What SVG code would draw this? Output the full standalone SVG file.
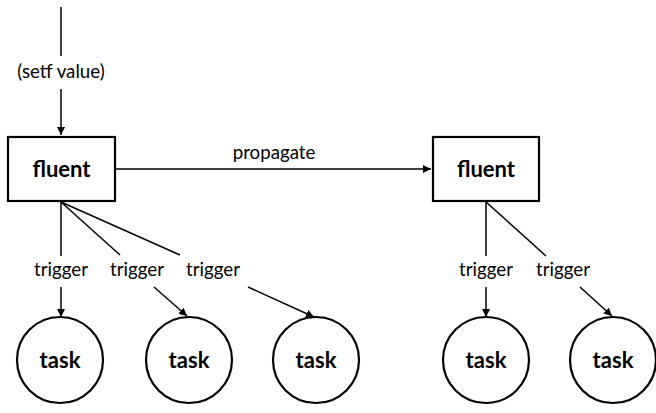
<svg xmlns="http://www.w3.org/2000/svg" width="656" height="413" viewBox="0 0 656 413">
<defs>
<marker id="arr" viewBox="0 0 10 10" refX="10" refY="5" markerWidth="8" markerHeight="8" markerUnits="userSpaceOnUse" orient="auto">
<path d="M0,0 L10,5 L0,10 z" fill="#000"/>
</marker>
<style>
.lbl{font-family:Lato,"DejaVu Sans",sans-serif;font-size:18.7px;fill:#000;text-anchor:middle}
.nt{font-family:Lato,"DejaVu Sans",sans-serif;font-size:22px;font-weight:bold;fill:#000;text-anchor:middle}
.box{fill:#fff;stroke:#000;stroke-width:2.2}
.ln{stroke:#000;stroke-width:1.5;fill:none}
.ar{stroke:#000;stroke-width:1.5;fill:none;marker-end:url(#arr)}
</style>
</defs>
<rect width="656" height="413" fill="#fff"/>
<g id="connectors">
<line class="ln" x1="61" y1="7" x2="61" y2="56"/>
<line class="ar" x1="61" y1="89" x2="61" y2="135"/>
<line class="ar" x1="116" y1="169" x2="431" y2="169"/>
<line class="ln" x1="61" y1="202" x2="61" y2="256"/>
<line class="ar" x1="61" y1="287" x2="61" y2="317"/>
<line class="ln" x1="61" y1="202" x2="120" y2="255"/>
<line class="ar" x1="154" y1="287" x2="187" y2="316"/>
<line class="ln" x1="61" y1="202" x2="180" y2="255"/>
<line class="ar" x1="248" y1="287" x2="314" y2="317"/>
<line class="ln" x1="486" y1="202" x2="486" y2="256"/>
<line class="ar" x1="486" y1="287" x2="486" y2="317"/>
<line class="ln" x1="486" y1="202" x2="546" y2="256"/>
<line class="ar" x1="580" y1="287" x2="612" y2="316"/>
<text class="lbl" x="61" y="78">(setf value)</text>
<text class="lbl" x="274" y="159">propagate</text>
<text class="lbl" x="61" y="276">trigger</text>
<text class="lbl" x="137" y="276">trigger</text>
<text class="lbl" x="213" y="276">trigger</text>
<text class="lbl" x="486" y="276">trigger</text>
<text class="lbl" x="563" y="276">trigger</text>
</g>
<g id="fluent1"><rect class="box" x="8" y="137" width="107" height="64"/><text class="nt" x="61.5" y="177">fluent</text></g>
<g id="fluent2"><rect class="box" x="433" y="137" width="106" height="64"/><text class="nt" x="486" y="177">fluent</text></g>
<g id="task1"><circle class="box" cx="60" cy="360" r="43"/><text class="nt" x="60" y="368">task</text></g>
<g id="task2"><circle class="box" cx="189" cy="360" r="43"/><text class="nt" x="189" y="368">task</text></g>
<g id="task3"><circle class="box" cx="316" cy="360" r="43"/><text class="nt" x="316" y="368">task</text></g>
<g id="task4"><circle class="box" cx="486" cy="360" r="43"/><text class="nt" x="486" y="368">task</text></g>
<g id="task5"><circle class="box" cx="613" cy="360" r="43"/><text class="nt" x="613" y="368">task</text></g>
</svg>
